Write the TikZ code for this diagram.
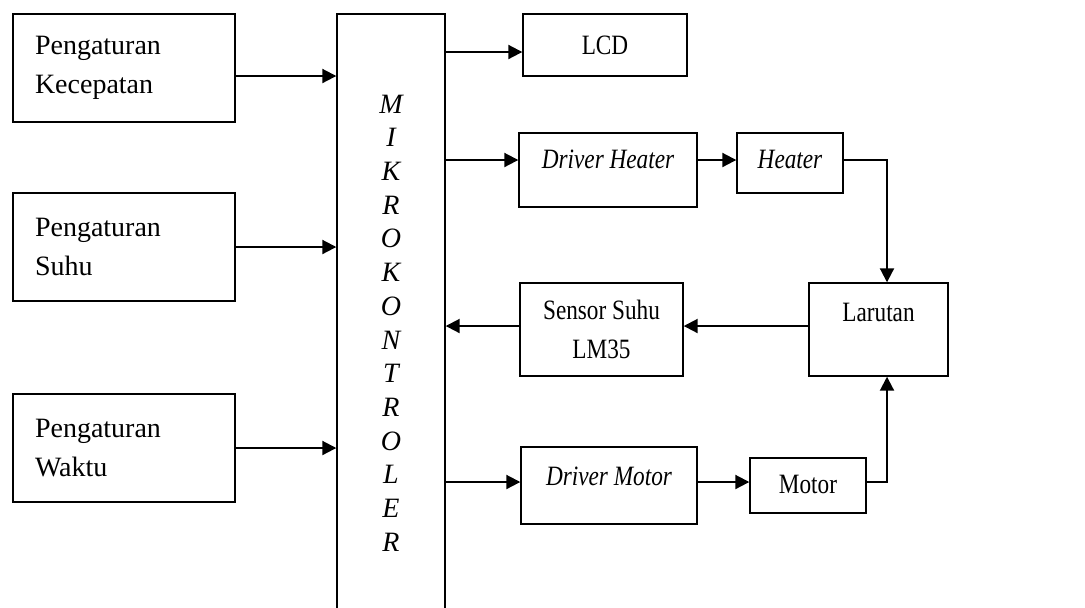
\documentclass[tikz,border=0pt]{standalone}
\usepackage{fontspec}
\setmainfont{Liberation Serif}
\newfontfamily\narrowfont{Liberation Serif}[FakeStretch=0.83]
\usetikzlibrary{arrows.meta,positioning}

\begin{document}
\begin{tikzpicture}[>={Triangle[length=7pt,width=7pt]},x=0.5pt,y=-0.5pt,
 font=\fontsize{14}{19.5}\selectfont,
 box/.style={draw,line width=0.7pt,inner sep=0pt,align=center},
 outbox/.style={box,font=\narrowfont\fontsize{14}{19.5}\selectfont},
 itbox/.style={box,font=\narrowfont\fontsize{14}{19.5}\selectfont\itshape},
 setbox/.style={box,minimum width=111pt,minimum height=54pt,text width=89pt,align=left,inner xsep=11pt},
 arr/.style={->,line width=1pt}]
\useasboundingbox (0,0) rectangle (1085,607);
% input boxes
\node[setbox] (kec) at (124,68) {Pengaturan\\Kecepatan};
\node[setbox] (suhu) at (124,247) {Pengaturan\\Suhu};
\node[setbox] (waktu) at (124,448) {Pengaturan\\Waktu};
% controller
\node[box,minimum width=54pt,minimum height=309pt,font=\fontsize{14}{16.85}\selectfont\itshape] (mikro) at (391,323)
 {M\\I\\K\\R\\O\\K\\O\\N\\T\\R\\O\\L\\E\\R};
% output side
\node[outbox,minimum width=82pt,minimum height=31pt] (lcd) at (605,45) {LCD};
\node[itbox,minimum width=89pt,minimum height=37pt,text height=10pt,text depth=12pt] (dh) at (608,170) {Driver Heater};
\node[itbox,minimum width=53pt,minimum height=30pt,text height=10pt,text depth=5pt] (heat) at (790,163) {Heater};
\node[outbox,minimum width=81.5pt,minimum height=46.5pt] (sens) at (601.5,329.5) {Sensor Suhu\\LM35};
\node[outbox,minimum width=69.5pt,minimum height=46.5pt,text height=10pt,text depth=18pt] (lar) at (878.5,329.5) {Larutan};
\node[itbox,minimum width=88pt,minimum height=38.5pt,text height=10pt,text depth=10pt] (dm) at (609,485.5) {Driver Motor};
\node[outbox,minimum width=58pt,minimum height=27.5pt,text height=10pt,text depth=2pt] (mot) at (808,485.5) {Motor};
% connections
\draw[arr] ([yshift=-4pt]kec.east) -- ([yshift=-4pt]kec.east -| mikro.west);
\draw[arr] (suhu.east) -- (suhu.east -| mikro.west);
\draw[arr] (waktu.east) -- (waktu.east -| mikro.west);
\draw[arr] ([yshift=-3.5pt]lcd.west -| mikro.east) -- ([yshift=-3.5pt]lcd.west);
\draw[arr] ([yshift=5pt]dh.west -| mikro.east) -- ([yshift=5pt]dh.west);
\draw[arr] ([yshift=5pt]dh.east) -- ([yshift=5pt]dh.east -| heat.west);
\draw[arr] ([yshift=1.5pt]heat.east) -| ([xshift=4.25pt]lar.north);
\draw[arr] ([yshift=1.75pt]lar.west) -- ([yshift=1.75pt]lar.west -| sens.east);
\draw[arr] ([yshift=1.75pt]sens.west) -- ([yshift=1.75pt]sens.west -| mikro.east);
\draw[arr] ([yshift=1.75pt]dm.west -| mikro.east) -- ([yshift=1.75pt]dm.west);
\draw[arr] ([yshift=1.75pt]dm.east) -- ([yshift=1.75pt]dm.east -| mot.west);
\draw[arr] ([yshift=1.75pt]mot.east) -| ([xshift=4.25pt]lar.south);
\end{tikzpicture}
\end{document}
